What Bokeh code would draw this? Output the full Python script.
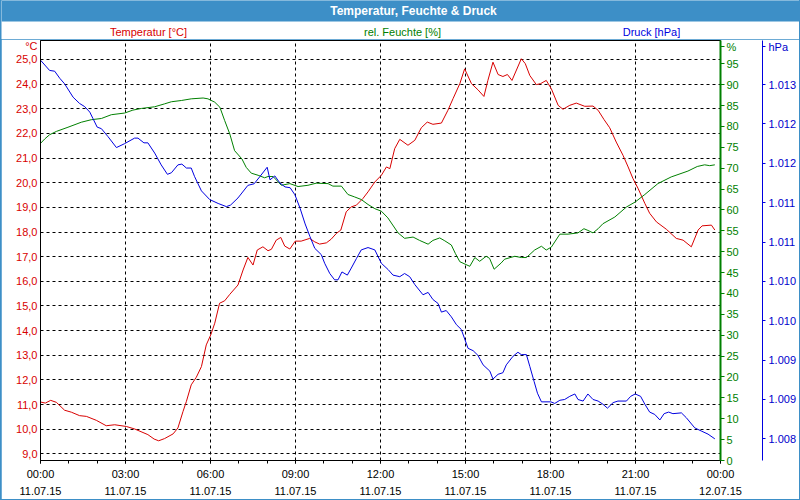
from bokeh.plotting import figure
from bokeh.layouts import column
from bokeh.models import Range1d, LinearAxis, FixedTicker
from bokeh.core.properties import value
from bokeh.embed import file_html
from bokeh.resources import INLINE

# ---------------- data ----------------
title_text = "Temperatur, Feuchte & Druck"
series_names = ["Temperatur [°C]", "rel. Feuchte [%]", "Druck [hPa]"]
unit_names = ["°C", "%", "hPa"]

x_ticks = [0, 3, 6, 9, 12, 15, 18, 21, 24]
x_tick_labels = ["00:00\n11.07.15", "03:00\n11.07.15", "06:00\n11.07.15", "09:00\n11.07.15",
                 "12:00\n11.07.15", "15:00\n11.07.15", "18:00\n11.07.15", "21:00\n11.07.15",
                 "00:00\n12.07.15"]
temp_ticks = [9, 10, 11, 12, 13, 14, 15, 16, 17, 18, 19, 20, 21, 22, 23, 24, 25]
temp_tick_labels = ["9,0", "10,0", "11,0", "12,0", "13,0", "14,0", "15,0", "16,0", "17,0",
                    "18,0", "19,0", "20,0", "21,0", "22,0", "23,0", "24,0", "25,0"]
hum_ticks = [0, 5, 10, 15, 20, 25, 30, 35, 40, 45, 50, 55, 60, 65, 70, 75, 80, 85, 90, 95]
pres_ticks = [1013.0, 1012.5, 1012.0, 1011.5, 1011.0, 1010.5, 1010.0, 1009.5, 1009.0, 1008.5]
pres_tick_labels = ["1.013", "1.012", "1.012", "1.011", "1.011", "1.010", "1.010", "1.009", "1.009", "1.008"]
# axis values at which the unit captions sit (top of each axis)
unit_positions = [25.53, 99.1, 1013.48]

temp_t = [0.01, 0.17, 0.36, 0.56, 0.85, 1.09, 1.38, 1.62, 1.97, 2.32, 2.62, 3.03, 3.32, 3.79, 4.01, 4.17,
          4.38, 4.68, 4.85, 5.03, 5.15, 5.32, 5.50, 5.68, 5.85, 6.01, 6.15, 6.32, 6.50, 6.68, 6.97, 7.15,
          7.32, 7.50, 7.65, 7.85, 8.03, 8.15, 8.32, 8.48, 8.62, 8.80, 8.99, 9.20, 9.50, 9.68, 9.85, 10.09,
          10.26, 10.44, 10.60, 10.79, 10.97, 11.15, 11.38, 11.56, 11.80, 12.03, 12.21, 12.33, 12.50, 12.68,
          12.97, 13.21, 13.44, 13.65, 13.85, 14.15, 14.38, 14.56, 14.80, 14.97, 15.21, 15.44, 15.65, 15.79,
          15.97, 16.15, 16.32, 16.48, 16.64, 16.97, 17.11, 17.27, 17.50, 17.65, 17.85, 18.03, 18.27, 18.44,
          18.68, 18.91, 19.21, 19.50, 19.68, 19.89, 20.09, 20.32, 20.56, 20.74, 20.91, 21.09, 21.33, 21.50,
          21.74, 22.09, 22.44, 22.68, 22.97, 23.21, 23.35, 23.68, 23.80]
temp_v = [11.10, 11.06, 11.17, 11.09, 10.77, 10.69, 10.55, 10.52, 10.36, 10.14, 10.18, 10.11, 10.01, 9.78,
          9.60, 9.53, 9.62, 9.81, 10.05, 10.72, 11.13, 11.80, 12.11, 12.54, 13.42, 13.83, 14.30, 15.11,
          15.21, 15.47, 15.85, 16.46, 16.97, 16.66, 17.27, 17.40, 17.24, 17.30, 17.67, 17.78, 17.43, 17.31,
          17.63, 17.63, 17.74, 17.60, 17.51, 17.56, 17.71, 17.94, 18.08, 18.82, 19.02, 19.09, 19.36, 19.63,
          20.03, 20.30, 20.64, 20.57, 21.38, 21.76, 21.52, 21.72, 22.23, 22.46, 22.37, 22.42, 22.94, 23.41,
          24.02, 24.62, 24.02, 23.77, 23.50, 24.15, 24.89, 24.39, 24.31, 24.39, 24.15, 25.03, 24.83, 24.35,
          23.98, 24.02, 24.15, 23.81, 23.14, 22.98, 23.14, 23.23, 23.10, 23.11, 22.94, 22.56, 22.23, 21.65,
          21.11, 20.64, 20.17, 19.77, 19.16, 18.76, 18.41, 18.11, 17.74, 17.67, 17.40, 18.08, 18.25, 18.28,
          18.08]

hum_t = [0.01, 0.15, 0.32, 0.56, 0.97, 1.44, 1.79, 2.15, 2.50, 2.97, 3.26, 3.56, 4.03, 4.38, 4.62, 4.97,
         5.32, 5.74, 5.91, 6.15, 6.33, 6.50, 6.68, 6.85, 7.11, 7.26, 7.44, 7.68, 7.91, 8.03, 8.21, 8.50,
         8.80, 9.09, 9.44, 9.73, 10.15, 10.32, 10.62, 10.85, 11.09, 11.32, 11.56, 11.80, 12.03, 12.26, 12.62,
         12.85, 13.15, 13.38, 13.68, 13.85, 14.09, 14.27, 14.50, 14.64, 14.80, 15.15, 15.33, 15.50, 15.73,
         15.85, 16.01, 16.26, 16.38, 16.74, 16.97, 17.15, 17.44, 17.68, 17.85, 18.03, 18.33, 18.62, 18.97,
         19.18, 19.32, 19.50, 19.68, 19.85, 20.27, 20.68, 20.99, 21.33, 21.79, 22.26, 22.85, 23.18, 23.44,
         23.62, 23.80]
hum_v = [76.0, 77.0, 78.0, 78.8, 79.8, 81.0, 81.6, 81.9, 82.8, 83.2, 83.9, 84.3, 84.7, 85.4, 85.9, 86.2,
         86.6, 86.8, 86.6, 85.8, 84.6, 81.4, 78.2, 74.2, 72.2, 70.2, 68.8, 68.3, 67.7, 68.0, 68.0, 65.9,
         66.3, 65.6, 65.9, 66.4, 66.3, 65.7, 65.7, 63.7, 63.1, 62.5, 61.3, 60.3, 59.7, 58.1, 54.5, 53.2,
         53.5, 52.7, 51.8, 52.7, 53.3, 52.6, 51.6, 49.6, 47.6, 46.5, 48.6, 47.7, 48.9, 48.4, 45.8, 47.3,
         48.2, 48.9, 48.6, 48.6, 50.4, 51.3, 50.4, 51.1, 54.2, 54.2, 54.5, 55.5, 55.1, 54.5, 55.5, 56.7,
         58.3, 60.7, 61.9, 63.7, 66.3, 67.9, 69.3, 70.4, 70.8, 70.6, 70.8]

pres_t = [0.00, 0.32, 0.50, 0.68, 0.85, 1.15, 1.38, 1.56, 1.74, 1.85, 2.00, 2.15, 2.38, 2.68, 2.97, 3.32,
          3.44, 3.65, 3.79, 4.03, 4.26, 4.48, 4.62, 4.85, 4.99, 5.15, 5.32, 5.44, 5.68, 5.97, 6.27, 6.56,
          6.71, 6.97, 7.32, 7.54, 7.74, 8.00, 8.10, 8.27, 8.45, 8.63, 8.81, 8.98, 9.16, 9.34, 9.51, 9.68,
          9.91, 10.03, 10.21, 10.38, 10.50, 10.64, 10.83, 10.97, 11.15, 11.32, 11.56, 11.80, 12.03, 12.27,
          12.44, 12.68, 12.85, 13.03, 13.21, 13.50, 13.68, 13.85, 14.03, 14.15, 14.32, 14.50, 14.68, 14.85,
          15.09, 15.27, 15.44, 15.62, 15.86, 15.97, 16.15, 16.32, 16.44, 16.68, 16.85, 16.97, 17.15, 17.27,
          17.42, 17.54, 17.68, 18.01, 18.15, 18.33, 18.50, 18.68, 18.86, 18.97, 19.15, 19.32, 19.50, 19.68,
          19.85, 20.01, 20.21, 20.38, 20.68, 20.83, 20.99, 21.18, 21.33, 21.50, 21.68, 21.86, 22.01, 22.17,
          22.32, 22.62, 22.79, 23.09, 23.32, 23.56, 23.80]
pres_v = [1013.31, 1013.18, 1013.17, 1013.08, 1013.01, 1012.84, 1012.76, 1012.72, 1012.65, 1012.57,
          1012.46, 1012.44, 1012.34, 1012.20, 1012.25, 1012.32, 1012.32, 1012.26, 1012.26, 1012.13,
          1011.98, 1011.86, 1011.88, 1011.98, 1011.99, 1011.94, 1011.94, 1011.83, 1011.65, 1011.54,
          1011.49, 1011.45, 1011.47, 1011.56, 1011.72, 1011.74, 1011.83, 1011.95, 1011.79, 1011.84,
          1011.75, 1011.70, 1011.69, 1011.60, 1011.43, 1011.23, 1011.07, 1010.92, 1010.84, 1010.73,
          1010.60, 1010.52, 1010.52, 1010.62, 1010.58, 1010.67, 1010.79, 1010.90, 1010.93, 1010.90,
          1010.73, 1010.65, 1010.58, 1010.56, 1010.60, 1010.56, 1010.46, 1010.33, 1010.36, 1010.27,
          1010.22, 1010.11, 1010.13, 1010.05, 1009.95, 1009.89, 1009.65, 1009.62, 1009.56, 1009.44,
          1009.36, 1009.26, 1009.32, 1009.34, 1009.44, 1009.55, 1009.60, 1009.57, 1009.57, 1009.42,
          1009.23, 1009.08, 1008.97, 1008.97, 1008.95, 1008.99, 1009.00, 1009.04, 1009.07, 1009.00,
          1008.98, 1009.07, 1009.00, 1008.98, 1008.94, 1008.89, 1008.96, 1008.98, 1008.98, 1009.04,
          1009.07, 1009.04, 1008.94, 1008.84, 1008.81, 1008.74, 1008.82, 1008.84, 1008.82, 1008.83,
          1008.77, 1008.64, 1008.60, 1008.56, 1008.50]

# ---------------- style ----------------
FONT = "Liberation Sans"
RED = "#d80000"
GREEN = "#008000"
BLUE = "#0000e0"
BAR = "#3d8fc7"

# ---------- header: title bar + series captions ----------
top = figure(width=798, height=39, output_backend="svg", toolbar_location=None,
             x_range=Range1d(0, 798), y_range=Range1d(39, 0),
             x_axis_type=None, y_axis_type=None, min_border=0, frame_align=False,
             background_fill_color="white", border_fill_color="white", outline_line_color=None)
top.grid.visible = False
top.quad(left=0, right=798, top=0, bottom=21, fill_color=BAR, line_color=None)
top.text(x=[412], y=[10.5], text=[title_text], text_align="center", text_baseline="middle",
         text_color="white", text_font=value(FONT), text_font_size="12px", text_font_style="bold")
top.text(x=[147, 401, 650], y=[31, 31, 31], text=series_names, text_align="center",
         text_baseline="middle", text_color=[RED, GREEN, BLUE], text_font=value(FONT),
         text_font_size="11px")

# ---------- main chart ----------
p = figure(width=798, height=460, output_backend="svg", toolbar_location=None,
           x_range=Range1d(0, 24), y_range=Range1d(8.73, 25.77), frame_align=False,
           min_border_left=39, min_border_right=79, min_border_top=1, min_border_bottom=39,
           background_fill_color="white", border_fill_color="white",
           outline_line_color="black", outline_line_width=1)
p.extra_y_ranges = {"hum": Range1d(0, 100.57), "pres": Range1d(1008.225, 1013.56)}

# x axis
xax = p.xaxis[0]
xax.ticker = FixedTicker(ticks=x_ticks, minor_ticks=list(range(25)))
xax.major_label_overrides = dict(zip(x_ticks, x_tick_labels))
xax.major_label_text_font = FONT
xax.major_label_text_font_size = "11px"
xax.major_label_text_color = "black"
xax.major_label_text_line_height = 1.45
xax.major_label_standoff = 4
xax.axis_line_color = "black"
xax.major_tick_out = 3
xax.major_tick_in = 0
xax.minor_tick_out = 3
xax.minor_tick_in = 0
xax.major_tick_line_color = "black"
xax.minor_tick_line_color = "black"

# left (temperature) axis
yax = p.yaxis[0]
yax.ticker = FixedTicker(ticks=temp_ticks + [unit_positions[0]])
yax.major_label_overrides = {**dict(zip(temp_ticks, temp_tick_labels)), unit_positions[0]: unit_names[0]}
yax.major_label_text_font = FONT
yax.major_label_text_font_size = "11px"
yax.major_label_text_color = RED
yax.major_tick_out = 0
yax.major_tick_in = 0
yax.minor_tick_line_color = None
yax.major_label_standoff = 3
yax.axis_line_color = "black"

# grids
p.xgrid.ticker = FixedTicker(ticks=x_ticks)
p.ygrid.ticker = FixedTicker(ticks=temp_ticks)
for g in (p.xgrid[0], p.ygrid[0]):
    g.grid_line_color = "black"
    g.grid_line_dash = "3 3"
    g.grid_line_width = 1

# humidity axis (right, green); the blank axis title only reserves room before the pressure axis
hax = LinearAxis(y_range_name="hum", ticker=FixedTicker(ticks=hum_ticks + [unit_positions[1]]),
                 major_label_overrides={unit_positions[1]: unit_names[1]},
                 axis_line_color=GREEN, axis_line_width=2,
                 major_tick_line_color=GREEN, major_tick_out=4, major_tick_in=0,
                 minor_tick_line_color=None,
                 major_label_text_color=GREEN, major_label_text_font=FONT,
                 major_label_text_font_size="11px", major_label_standoff=2,
                 axis_label=" ", axis_label_standoff=16, axis_label_text_font_size="2px")
p.add_layout(hax, "right")

# pressure axis (right, blue)
pax = LinearAxis(y_range_name="pres", ticker=FixedTicker(ticks=pres_ticks + [unit_positions[2]]),
                 major_label_overrides={**dict(zip(pres_ticks, pres_tick_labels)),
                                        unit_positions[2]: unit_names[2]},
                 axis_line_color=BLUE, axis_line_width=1,
                 major_tick_line_color=BLUE, major_tick_out=3, major_tick_in=0,
                 minor_tick_line_color=None,
                 major_label_text_color="#0000cc", major_label_text_font=FONT,
                 major_label_text_font_size="11px", major_label_standoff=3)
p.add_layout(pax, "right")

# lines
p.line(x=temp_t, y=temp_v, line_color=RED, line_width=1)
p.line(x=hum_t, y=hum_v, line_color=GREEN, line_width=1, y_range_name="hum")
p.line(x=pres_t, y=pres_v, line_color=BLUE, line_width=1, y_range_name="pres")

layout = column(top, p, spacing=0,
                styles={"background-color": BAR, "padding": "0px 1px 1px 1px"})

open("out.html", "w").write(file_html(layout, INLINE))
